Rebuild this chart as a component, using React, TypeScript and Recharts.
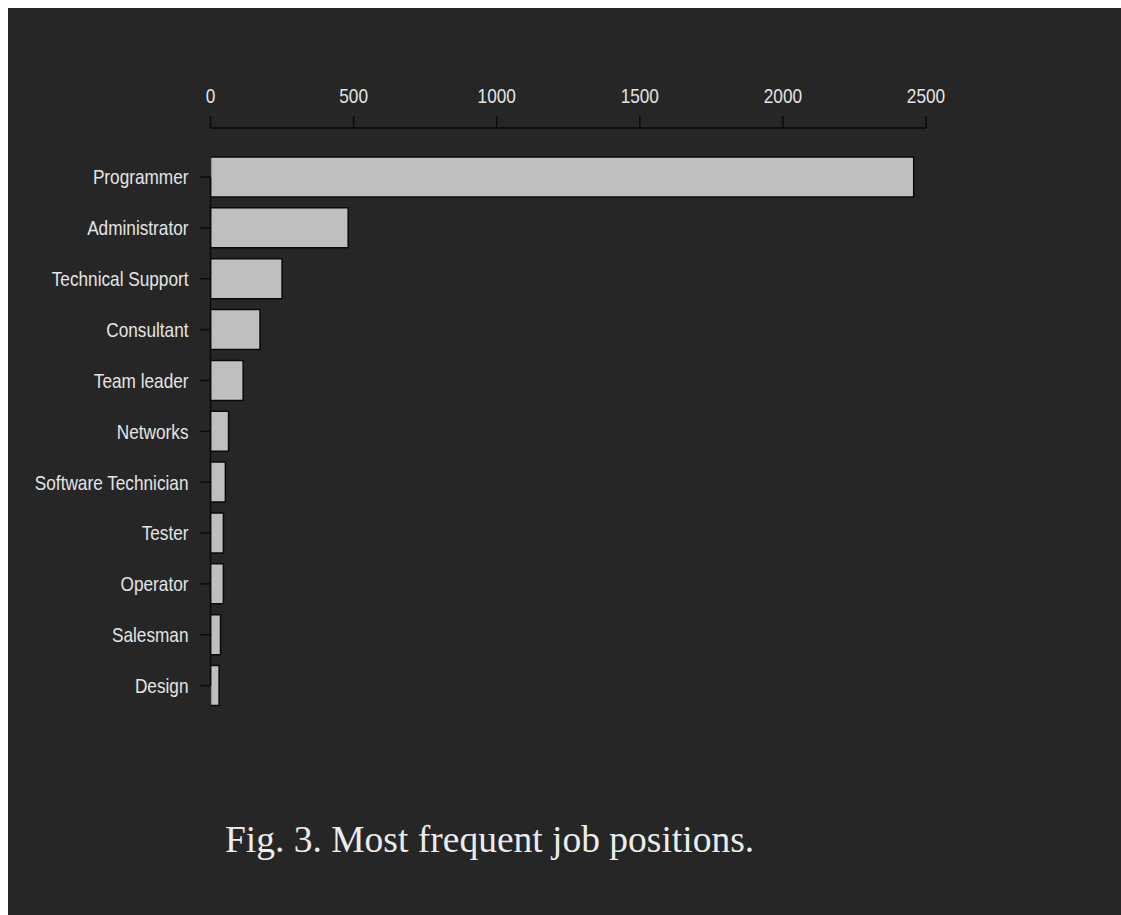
import React from "react";
import { BarChart, Bar, XAxis, YAxis, ReferenceLine } from "recharts";

const categories = [
  "Programmer",
  "Administrator",
  "Technical Support",
  "Consultant",
  "Team leader",
  "Networks",
  "Software Technician",
  "Tester",
  "Operator",
  "Salesman",
  "Design",
];
const counts = [2457, 481, 250, 173, 114, 63, 52, 45, 45, 35, 30];
const xTicks = [0, 500, 1000, 1500, 2000, 2500];
const caption = "Fig. 3. Most frequent job positions.";

const data = categories.map((name, i) => ({ name, value: counts[i] }));

const BG = "#262626";
const TEXT = "#e4e4e4";
const FONT = "'Liberation Sans', Arial, sans-serif";

const NarrowTick = (props: any) => {
  const { x, y, payload, textAnchor, dyVal } = props;
  return (
    <g transform={`translate(${x},${y})`}>
      <text
        transform="scale(0.82,1)"
        textAnchor={textAnchor}
        dy={dyVal}
        fill={TEXT}
        fontSize={21}
        fontFamily={FONT}
      >
        {payload.value}
      </text>
    </g>
  );
};

export default function App() {
  return (
    <div
      style={{
        position: "fixed",
        left: 8,
        top: 8,
        width: 1113,
        height: 907,
        background: BG,
        overflow: "hidden",
      }}
    >
      <BarChart
        width={1113}
        height={907}
        data={data}
        layout="vertical"
        margin={{ top: 80, right: 195, bottom: 204, left: 0 }}
        barCategoryGap="10.6%"
      >
        <XAxis
          type="number"
          orientation="top"
          domain={[0, 2500]}
          ticks={xTicks}
          height={40}
          axisLine={{ stroke: "#0a0a0a", strokeWidth: 1.5 }}
          tickLine={{ stroke: "#0a0a0a", strokeWidth: 1.5 }}
          tickSize={12}
          tickMargin={13}
          tick={(p: any) => <NarrowTick {...p} textAnchor="middle" dyVal={0} />}
          allowDataOverflow
        />
        <YAxis
          type="category"
          dataKey="name"
          width={202.5}
          padding={{ top: 23.6, bottom: 0 }}
          axisLine={false}
          tickLine={{ stroke: "#0a0a0a", strokeWidth: 1.5 }}
          tickSize={10}
          tickMargin={12}
          tick={(p: any) => <NarrowTick {...p} textAnchor="end" dyVal="0.355em" />}
          interval={0}
        />
        <ReferenceLine
          segment={[
            { x: 0, y: categories[0] },
            { x: 0, y: categories[categories.length - 1] },
          ]}
          stroke="#0a0a0a"
          strokeWidth={1.5}
        />
        <Bar
          dataKey="value"
          fill="#bfbfbf"
          stroke="#0a0a0a"
          strokeWidth={1.5}
          isAnimationActive={false}
        />
      </BarChart>
      <div
        style={{
          position: "absolute",
          left: 217,
          top: 813,
          color: "#ececec",
          fontFamily: "'Liberation Serif', 'Times New Roman', serif",
          fontSize: 37.5,
          whiteSpace: "nowrap",
          lineHeight: 1,
        }}
      >
        {caption}
      </div>
    </div>
  );
}
